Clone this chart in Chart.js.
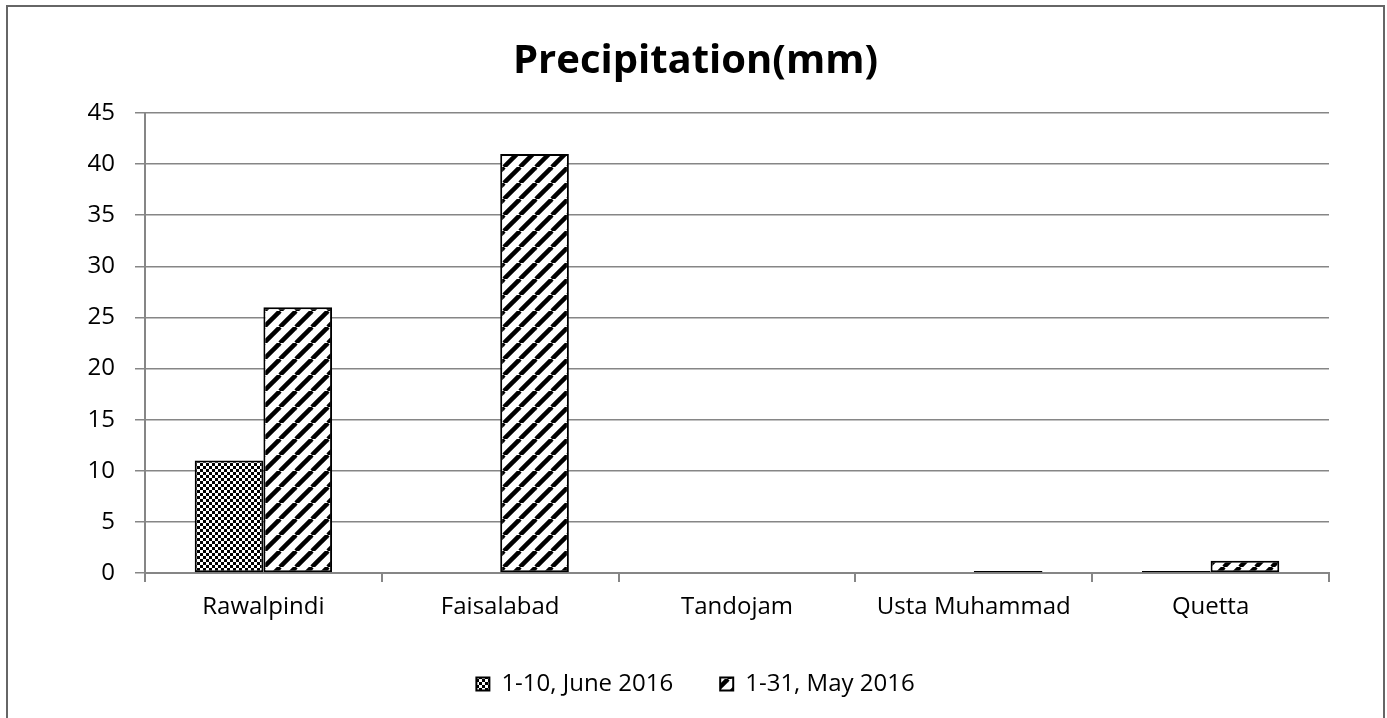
<!DOCTYPE html>
<html>
<head>
<meta charset="utf-8">
<script src="https://cdn.jsdelivr.net/npm/chart.js@4.4.0/dist/chart.umd.min.js"></script>
<style>
body{margin:0;background:#fff;}
#box{position:absolute;left:6px;top:5px;width:1375px;height:715px;border:2px solid #666;background:#fff;overflow:hidden;}
</style>
</head>
<body>
<div id="box"><canvas id="precipChart" width="1375" height="715"></canvas></div>
<script>

/* data */
var stations=['Rawalpindi','Faisalabad','Tandojam','Usta Muhammad','Quetta'];
var june2016=[11,0,0,0,0.2];
var may2016=[26,41,0,0.2,1.2];
var yTicks=[0,5,10,15,20,25,30,35,40,45];

/* fill patterns */
function checker(){
var c=document.createElement('canvas');
c.width=6;c.height=6;
var g=c.getContext('2d');
g.fillStyle='#fff';g.fillRect(0,0,6,6);
g.fillStyle='#000';g.fillRect(0,0,3,3);g.fillRect(3,3,3,3);
return g.createPattern(c,'repeat');
}

function stripes(){
var s=16;
var c=document.createElement('canvas');
c.width=s;c.height=s;
var g=c.getContext('2d');
g.fillStyle='#fff';g.fillRect(0,0,s,s);
g.strokeStyle='#000';g.lineWidth=4.5;
[-s,0,s].forEach(function(o){
g.beginPath();g.moveTo(o,s);g.lineTo(o+s,0);g.stroke();
});
return g.createPattern(c,'repeat');
}

var gridCol='#868686';
var ctx=document.getElementById('precipChart');

new Chart(ctx,{
type:'bar',
data:{
labels:stations,
datasets:[{
label:'1-10, June 2016',
data:june2016,
backgroundColor:checker(),
borderColor:'#000',
borderWidth:2,
borderSkipped:false
},{
label:'1-31, May 2016',
data:may2016,
backgroundColor:stripes(),
borderColor:'#000',
borderWidth:2,
borderSkipped:false
}]
},
options:{
responsive:false,
animation:false,
layout:{padding:{left:54,right:54,top:0,bottom:16}},
datasets:{bar:{categoryPercentage:0.58,barPercentage:1}},
plugins:{
title:{
display:true,
text:'Precipitation(mm)',
color:'#000',
font:{family:'Open Sans',size:40,weight:'bold'},
padding:{top:31,bottom:27}
},
legend:{
position:'bottom',
labels:{
color:'#000',
font:{family:'Open Sans',size:24},
boxWidth:13,boxHeight:13,
padding:47
}
},
tooltip:{enabled:false}
},
scales:{
x:{
grid:{drawOnChartArea:false,color:gridCol,lineWidth:2,tickLength:9,offset:true},
border:{color:gridCol,width:2},
ticks:{color:'#000',font:{family:'Open Sans',size:24},padding:11},
afterFit:function(s){s.height=52;}
},
y:{
min:0,max:45,
afterBuildTicks:function(s){s.ticks=yTicks.map(function(v){return {value:v};});},
grid:{color:gridCol,lineWidth:1.5,tickLength:10},
border:{color:gridCol,width:2},
ticks:{color:'#000',font:{family:'Open Sans',size:24},padding:20},
afterFit:function(s){s.width=83;}
}
}
}
});

</script>
</body>
</html>
